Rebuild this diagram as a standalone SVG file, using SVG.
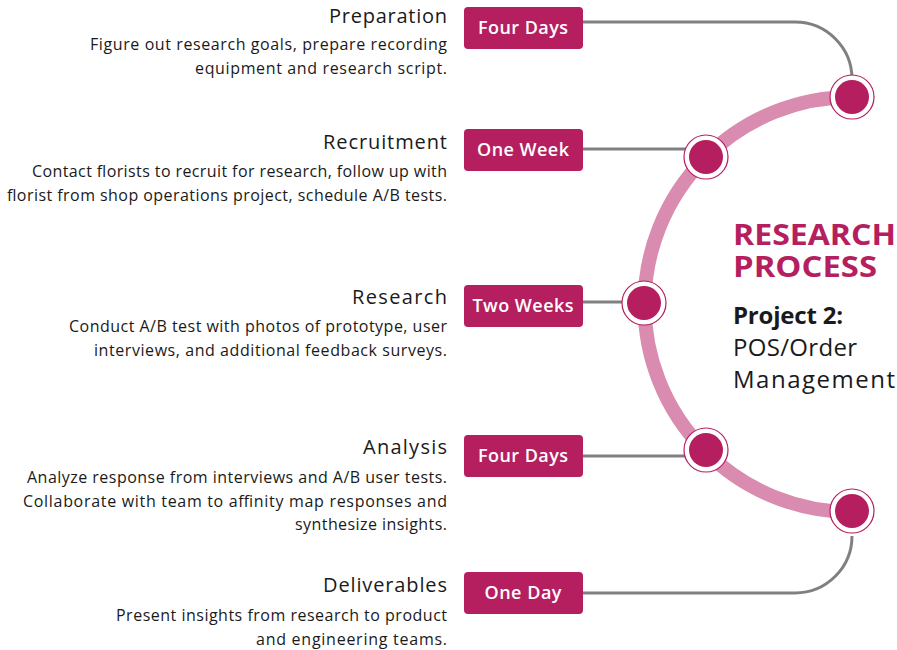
<svg xmlns="http://www.w3.org/2000/svg" width="897" height="650" viewBox="0 0 897 650">
<style>
.t{font-family:"Open Sans","Liberation Sans",sans-serif;font-size:20px;font-weight:500;fill:#1a1a1a;text-anchor:end}
.d{font-family:"Open Sans","Liberation Sans",sans-serif;font-size:16px;fill:#1a1a1a;text-anchor:end}
.b{fill:#b51e5f}
.bt{font-family:"Open Sans","Liberation Sans",sans-serif;font-size:18px;font-weight:600;fill:#fff;text-anchor:middle}
.c{fill:none;stroke:#808080;stroke-width:3}
.ring{fill:#fff;stroke:#b51e5f;stroke-width:1.2}
.dot{fill:#b51e5f}
.h{font-family:"Open Sans","Liberation Sans",sans-serif;font-size:29px;font-weight:700;fill:#b51e5f}
.p{font-family:"Open Sans","Liberation Sans",sans-serif;font-size:24px;fill:#1a1a1a}
</style>
<rect width="897" height="650" fill="#fff"/>
<g id="connectors">
<path class="c" d="M583,22 H795 A57,57 0 0 1 852,79"/>
<path class="c" d="M583,149 H690"/>
<path class="c" d="M583,302 H630"/>
<path class="c" d="M583,456 H690"/>
<path class="c" d="M583,593 H795 A57,57 0 0 0 852,536"/>
<path d="M852,97 A205,205 0 0 0 852,512" fill="none" stroke="#d98bb0" stroke-width="14"/>
</g>
<g id="preparation">
<text class="t" x="447" y="23" textLength="118">Preparation</text>
<text class="d" x="447" y="50" textLength="357">Figure out research goals, prepare recording</text>
<text class="d" x="447" y="74" textLength="252">equipment and research script.</text>
<rect class="b" x="464" y="7" width="119" height="42" rx="4"/>
<text class="bt" x="523" y="34" textLength="90">Four Days</text>
<circle class="ring" cx="852" cy="97" r="22"/><circle class="dot" cx="852" cy="97" r="17"/>
</g>
<g id="recruitment">
<text class="t" x="447" y="149" textLength="124">Recruitment</text>
<text class="d" x="447" y="177" textLength="415">Contact florists to recruit for research, follow up with</text>
<text class="d" x="447" y="201" textLength="440">florist from shop operations project, schedule A/B tests.</text>
<rect class="b" x="464" y="129" width="119" height="42" rx="4"/>
<text class="bt" x="523" y="156" textLength="92">One Week</text>
<circle class="ring" cx="706" cy="157" r="22"/><circle class="dot" cx="706" cy="157" r="17"/>
</g>
<g id="research">
<text class="t" x="447" y="304" textLength="95">Research</text>
<text class="d" x="447" y="332" textLength="378">Conduct A/B test with photos of prototype, user</text>
<text class="d" x="447" y="356" textLength="353">interviews, and additional feedback surveys.</text>
<rect class="b" x="464" y="285" width="119" height="42" rx="4"/>
<text class="bt" x="523" y="312" textLength="101">Two Weeks</text>
<circle class="ring" cx="644" cy="303" r="22"/><circle class="dot" cx="644" cy="303" r="17"/>
</g>
<g id="analysis">
<text class="t" x="447" y="454" textLength="84">Analysis</text>
<text class="d" x="447" y="483" textLength="420">Analyze response from interviews and A/B user tests.</text>
<text class="d" x="447" y="507" textLength="424">Collaborate with team to affinity map responses and</text>
<text class="d" x="447" y="530" textLength="152">synthesize insights.</text>
<rect class="b" x="464" y="435" width="119" height="42" rx="4"/>
<text class="bt" x="523" y="462" textLength="90">Four Days</text>
<circle class="ring" cx="706" cy="450" r="22"/><circle class="dot" cx="706" cy="450" r="17"/>
</g>
<g id="deliverables">
<text class="t" x="447" y="592" textLength="124">Deliverables</text>
<text class="d" x="447" y="621" textLength="331">Present insights from research to product</text>
<text class="d" x="447" y="645" textLength="191">and engineering teams.</text>
<rect class="b" x="464" y="572" width="119" height="42" rx="4"/>
<text class="bt" x="523" y="599" textLength="77">One Day</text>
<circle class="ring" cx="852" cy="511" r="22"/><circle class="dot" cx="852" cy="511" r="17"/>
</g>
<g id="title">
<text class="h" x="733" y="245" textLength="163" lengthAdjust="spacingAndGlyphs">RESEARCH</text>
<text class="h" x="733" y="277" textLength="144" lengthAdjust="spacingAndGlyphs">PROCESS</text>
<text class="p" x="733" y="324" font-weight="700" textLength="110">Project 2:</text>
<text class="p" x="733" y="356" textLength="124">POS/Order</text>
<text class="p" x="733" y="388" textLength="162">Management</text>
</g>
</svg>
